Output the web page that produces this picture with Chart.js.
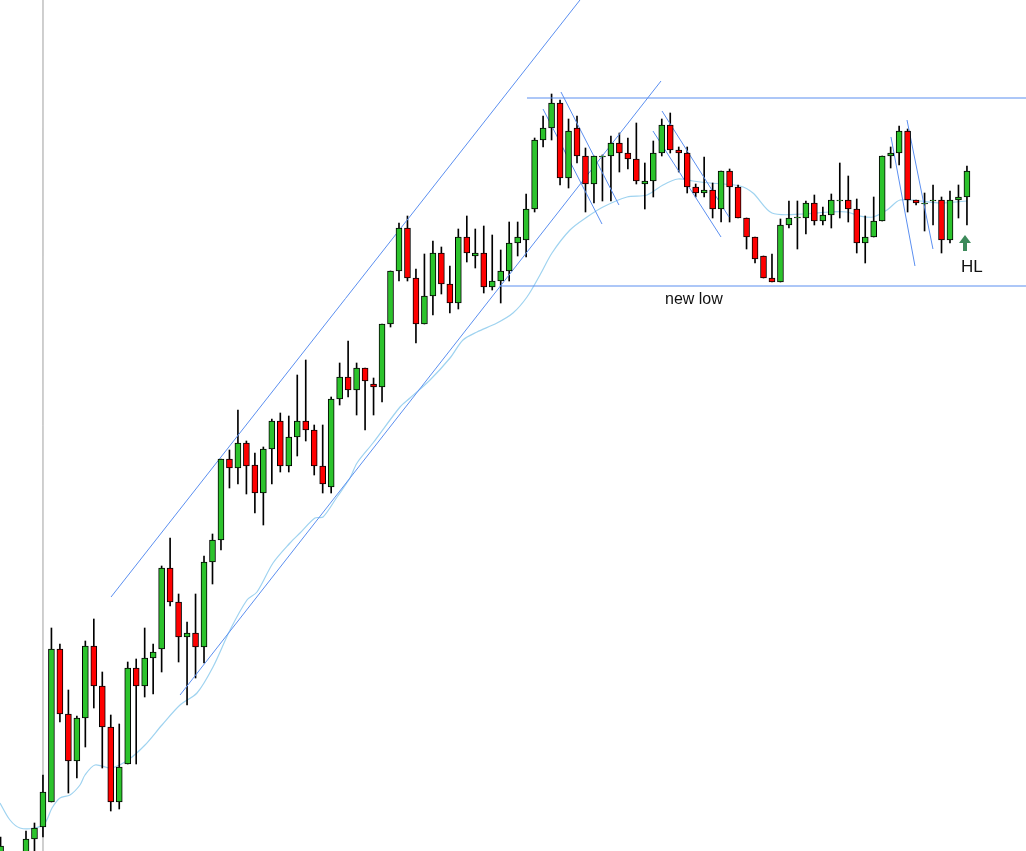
<!DOCTYPE html>
<html><head><meta charset="utf-8">
<script src="https://cdn.jsdelivr.net/npm/chart.js@4/dist/chart.umd.min.js"></script>
<style>
html,body{margin:0;padding:0;background:#fff;overflow:hidden}
#wrap{position:relative;width:1026px;height:851px}
.lbl{position:absolute;font-family:"Liberation Sans",Arial,sans-serif;color:#111;white-space:nowrap}
</style></head><body>
<div id="wrap"><canvas id="c" width="1026" height="851"></canvas>
<div class="lbl" style="left:665px;top:290px;font-size:16px">new low</div>
<div class="lbl" style="left:961px;top:257px;font-size:17px">HL</div>
</div>
<script>
// Readings in chart units (screen depth from top); price = 900 - reading
const toPrice = v => 900 - v;
const startIndex = -3;
const opens  = [858,880,875,856,839,827,802,649,714,761,718,646,686,727,802,764,668,686,658,649,568,602,637,633,647,562,540,459,468,443,465,493,449,421,466,437,421,430,466,487,399,377,390,368,384,387,324,271,228,278,324,296,253,284,303,237,256,253,287,281,271,243,240,209,140,128,103,178,128,156,184,157,156,143,153,159,184,181,153,125,150,153,187,193,190,209,171,187,218,237,256,278,282,225,218,218,203,221,215,201,200,209,243,237,221,156,153,131,200,204,201,200,240,200,197];
const highs  = [837,870,862,831,823,775,628,644,690,716,641,619,672,715,724,662,659,628,644,566,538,594,622,594,556,534,459,450,410,441,453,447,419,413,416,375,360,425,425,397,363,341,363,368,378,324,271,223,216,269,254,241,247,266,229,216,229,226,235,250,222,222,194,138,116,94,100,119,116,148,156,155,136,133,138,123,163,141,119,113,147,147,184,157,183,171,169,185,218,237,256,254,219,201,201,201,195,207,194,163,176,199,216,197,156,147,126,129,200,193,185,197,191,185,166];
const lows   = [862,890,885,858,851,837,802,722,793,778,747,708,768,811,809,764,764,697,694,672,606,662,705,678,663,584,550,488,484,494,513,525,484,472,472,456,441,475,493,493,405,397,415,430,415,402,327,281,281,343,324,315,294,313,309,262,268,293,290,303,281,256,257,212,147,140,185,188,163,212,203,201,201,172,169,184,209,197,156,153,172,193,197,197,218,222,222,218,249,263,278,282,282,228,249,234,225,225,228,218,222,253,263,237,221,168,165,212,205,231,225,253,243,218,225];
const closes = [846,872,866,839,828,792,649,714,761,718,646,686,727,802,767,668,686,658,652,568,602,637,633,647,562,540,459,468,443,466,493,449,421,466,437,421,430,466,484,399,377,390,368,381,387,324,271,228,278,324,296,253,284,303,237,253,253,287,281,271,243,237,209,140,128,103,178,131,156,184,156,156,143,153,159,181,181,153,125,150,153,187,193,190,209,171,187,218,237,259,278,282,225,218,217,203,221,215,200,200,209,243,237,221,156,153,131,200,203,203,200,240,200,197,171];
// moving average readings: [candle index, reading]
const maPoints = [[-3.07,803],[-1.89,820],[-0.71,828],[1.06,828],[2.24,823],[3.07,808],[4.01,798],[5.19,795],[6.37,785],[6.96,775],[8.14,765],[10.03,768],[12.03,760],[14.04,745],[16.04,725],[18.17,705],[20.17,693],[22.06,667],[24.07,630],[26.07,600],[27.25,592],[29.14,563],[31.14,543],[32.32,533],[34.09,518],[35.04,517],[36.69,497],[38.22,478],[39.05,463],[40.93,443],[44.12,407],[45.3,398],[47.66,380],[50.02,358],[51.55,340],[53.2,332],[55.56,323],[57.45,313],[59.1,297],[60.63,275],[62.05,253],[64.17,230],[66.18,217],[68.07,207],[70.9,197],[73.26,195],[75.14,185],[76.91,179],[78.68,181],[80.69,183],[84.23,186],[85.76,193],[88.0,213],[91.66,214],[94.84,212],[96.85,212],[98.39,216],[99.92,217],[101.57,210],[103.1,200],[105.46,201],[107.82,203],[111.01,201]];
// drawn trendlines: [[i1,reading1],[i2,reading2]]
const trendLines = [
 [[10.03,597],[65.35,0]],
 [[18.17,695],[74.91,81]],
 [[59.10,98],[117.97,98]],
 [[55.92,286],[117.97,286]],
 [[60.99,109],[67.95,224]],
 [[63.11,92],[69.95,205]],
 [[75.03,111],[82.93,217]],
 [[73.96,131],[81.99,237]],
 [[102.04,137],[104.87,266]],
 [[103.93,120],[106.99,249]]
];
const markerIndex = 2.0;

const idx = opens.map((_, k) => startIndex + k);
const up = idx.map((_, k) => closes[k] < opens[k]);
const bodies = idx.map((i, k) => ({x: i, y: [toPrice(opens[k]), toPrice(closes[k])]}));
const wicks = idx.map((i, k) => ({x: i, y: [toPrice(lows[k]), toPrice(highs[k])]}));

const datasets = [
 {type:'bar', data: bodies, grouped:false, barThickness:6, minBarLength:1,
  backgroundColor: up.map(u => u ? '#2cc32c' : '#ff0000'), borderColor:'#000', borderWidth:1, borderSkipped:false, order:1},
 {type:'bar', data: wicks, grouped:false, barThickness:1, backgroundColor:'#000', borderWidth:0, order:3},
 {type:'line', data: maPoints.map(p => ({x:p[0], y:toPrice(p[1])})), borderColor:'#9fd3f0', borderWidth:1.2, pointRadius:0, tension:0.3, order:4},
 {type:'line', data: [{x:markerIndex,y:toPrice(0)},{x:markerIndex,y:toPrice(851)}], borderColor:'#c8c8c8', borderWidth:1, pointRadius:0, order:5}
];
trendLines.forEach(t => datasets.push({type:'line', data: t.map(p => ({x:p[0], y:toPrice(p[1])})), borderColor:'#5b8ff0', borderWidth:1, pointRadius:0, order:2}));

const arrow = {id:'arrow', afterDraw(ch){
  const c = ch.ctx; c.save(); c.fillStyle='#3c8a5a';
  c.beginPath(); c.moveTo(965,235); c.lineTo(971,243); c.lineTo(967,243); c.lineTo(967,251); c.lineTo(963,251); c.lineTo(963,243); c.lineTo(959,243); c.closePath(); c.fill(); c.restore();
}};

new Chart(document.getElementById('c'), {
 type:'bar', data:{datasets}, plugins:[arrow],
 options:{responsive:false, animation:false, layout:{padding:0},
  plugins:{legend:{display:false}, tooltip:{enabled:false}},
  scales:{
   x:{type:'linear', display:false, offset:false, min:-26/8.477, max:1000/8.477},
   y:{display:false, min:toPrice(851), max:toPrice(0)}
  }}
});
</script></body></html>
